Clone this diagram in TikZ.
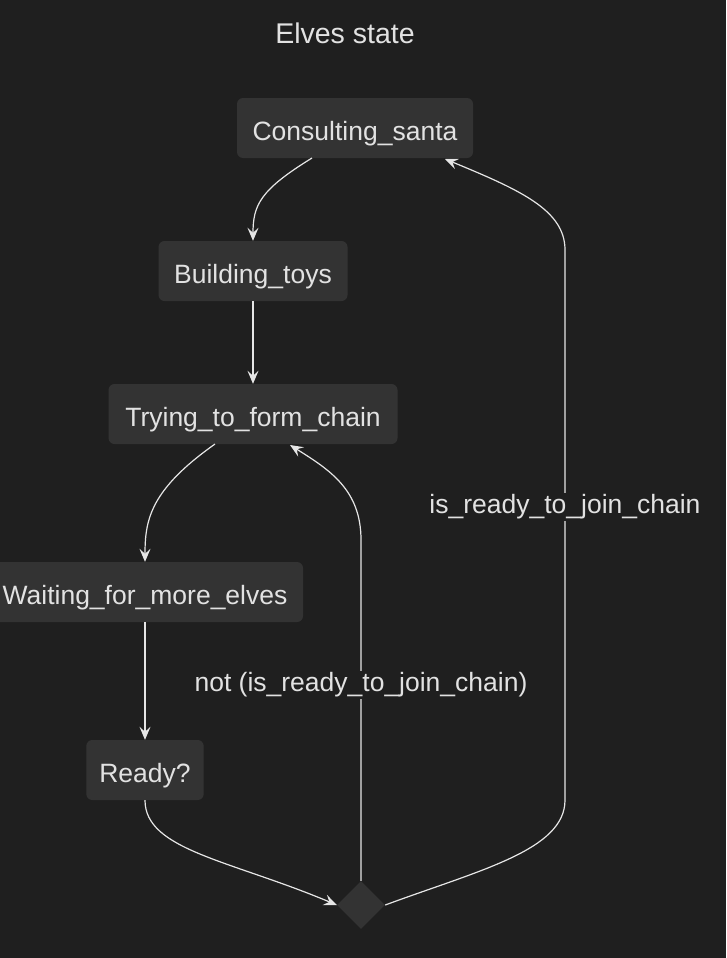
\documentclass[tikz,border=0pt]{standalone}
\usepackage{fontspec}
\setmainfont{Liberation Sans}
\usetikzlibrary{arrows.meta,shapes.geometric}
\definecolor{bg}{HTML}{1F1F1F}
\definecolor{boxfill}{HTML}{333333}
\definecolor{txt}{HTML}{E2E2E2}
\definecolor{edge}{HTML}{E6E6E6}
\begin{document}
\begin{tikzpicture}[x=1pt,y=-1pt,
  state/.style={draw=none,fill=boxfill,rounded corners=6pt,text=txt,font=\fontsize{26.5}{30}\selectfont,minimum height=60pt,inner xsep=13pt,inner ysep=0pt,text height=28pt,text depth=3pt,anchor=center},
  conn/.style={draw=edge,line width=1.2pt,-{Stealth[length=13pt,width=11pt,inset=5pt]}},
  lbl/.style={fill=bg,text=txt,font=\fontsize{26.5}{30}\selectfont,inner sep=2pt}]
\fill[bg] (0,0) rectangle (726,958);
\useasboundingbox (0,0) rectangle (726,958);
\node[text=txt,font=\fontsize{28.5}{32}\selectfont] (title) at (345,33) {Elves state};
\node[state,minimum width=236pt] (cs) at (355,128) {Consulting\_santa};
\node[state,minimum width=189pt] (bt) at (253,271) {Building\_toys};
\node[state,minimum width=289pt] (tf) at (253,414) {Trying\_to\_form\_chain};
\node[state,minimum width=316pt] (wm) at (145,592) {Waiting\_for\_more\_elves};
\node[state,minimum width=113pt] (rd) at (145,770) {Ready?};
\node[diamond,fill=boxfill,minimum width=48pt,minimum height=48pt,inner sep=0pt] (ch) at (361,905) {};
\coordinate (cs1) at (312,158);
\coordinate (tf1) at (215,444);
\coordinate (tf2) at (290,445);
\coordinate (cs2) at (445,159);
\draw[conn] (cs1) .. controls (260,190) and (253,205) .. (bt.north);
\draw[conn] (bt.south) -- (tf.north);
\draw[conn] (tf1) .. controls (150,490) and (145,520) .. (wm.north);
\draw[conn] (wm.south) -- (rd.north);
\draw[conn] (rd.south) .. controls (145,850) and (230,860) .. (ch.west);
\draw[conn] (ch.north) -- (361,540) .. controls (361,490) and (330,470) .. (tf2);
\draw[conn] (ch.east) .. controls (480,870) and (565,850) .. (565,800) -- (565,250) .. controls (565,210) and (520,190) .. (cs2);
\node[lbl] (l1) at (361,685) {not (is\_ready\_to\_join\_chain)};
\node[lbl] (l2) at (565,507) {is\_ready\_to\_join\_chain};
\end{tikzpicture}
\end{document}
